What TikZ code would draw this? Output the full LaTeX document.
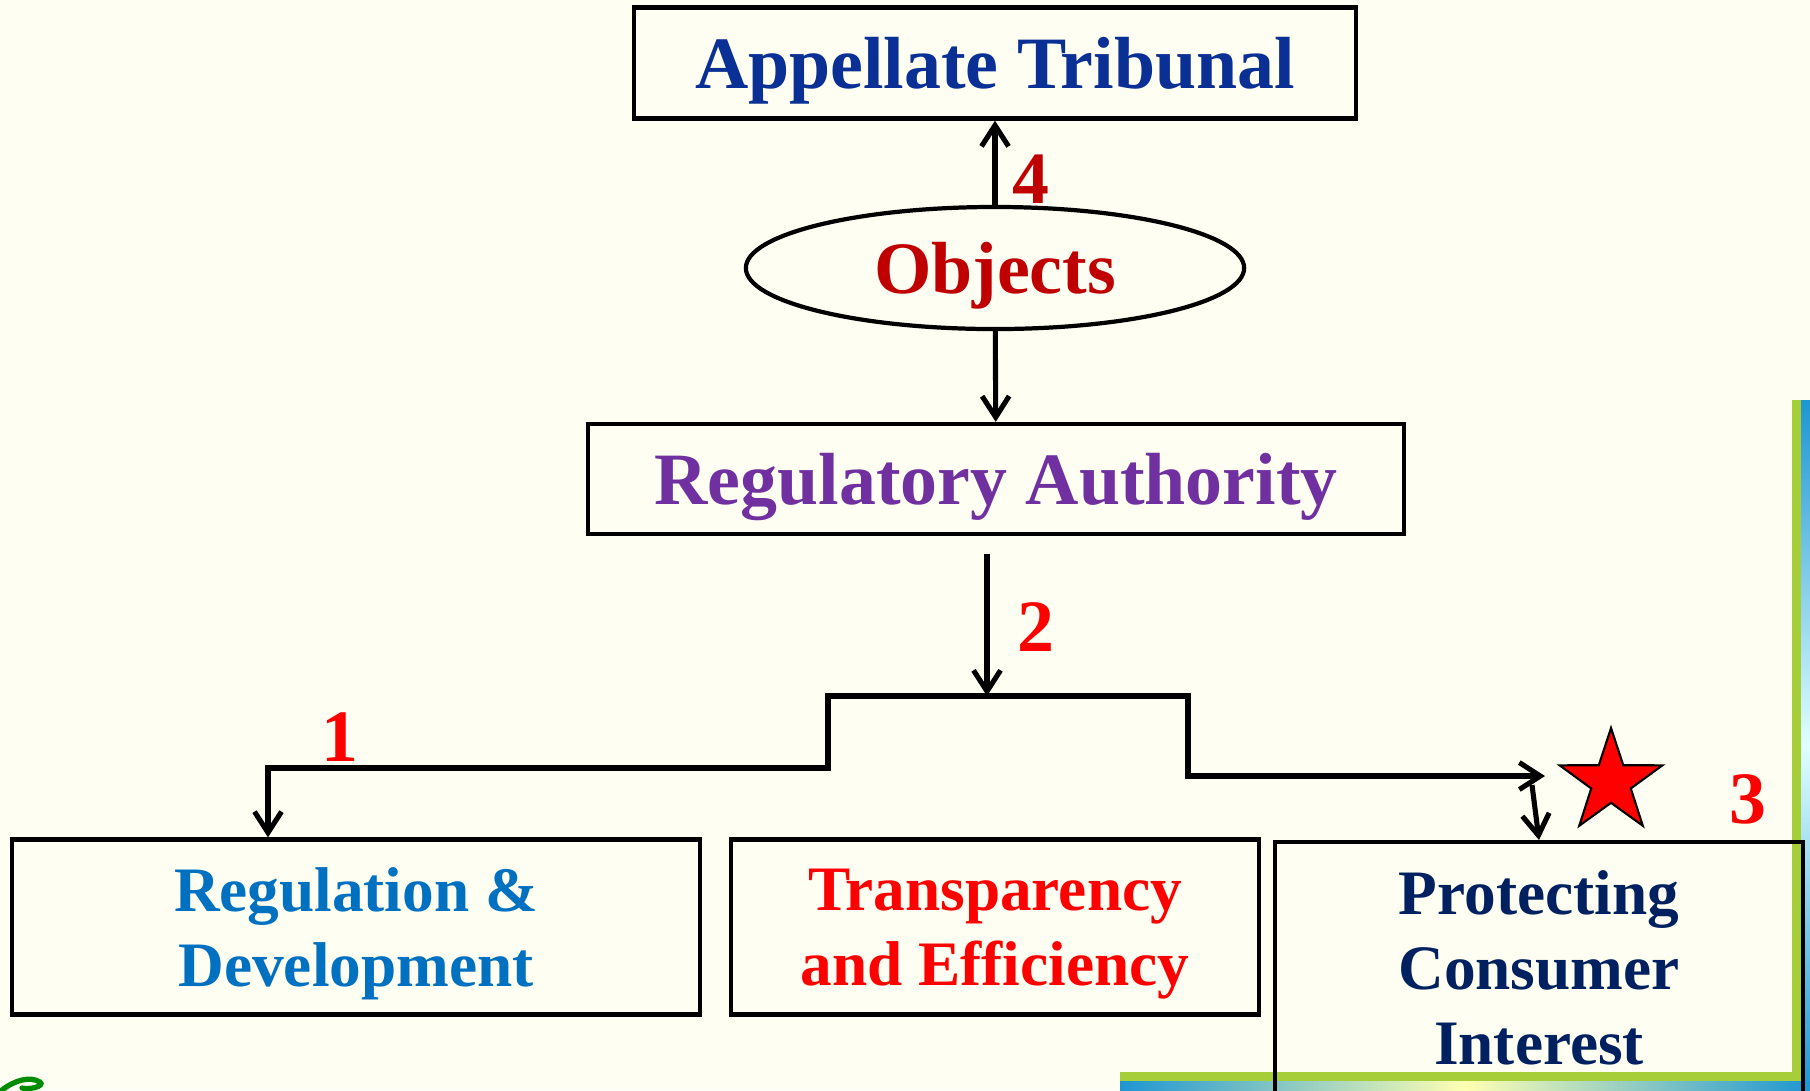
\documentclass[tikz,border=0pt]{standalone}
\usepackage{fontspec}
\setmainfont{Liberation Serif}
\usetikzlibrary{calc}
\usetikzlibrary{shapes.geometric}
\usetikzlibrary{arrows.meta}
\definecolor{cream}{RGB}{254,254,242}
\definecolor{tribblue}{RGB}{10,48,150}
\definecolor{objred}{RGB}{192,0,0}
\definecolor{regpurple}{RGB}{112,48,160}
\definecolor{devblue}{RGB}{0,112,192}
\definecolor{consnavy}{RGB}{0,32,96}
\definecolor{leafgreen}{RGB}{166,206,57}
\definecolor{frameblue}{RGB}{30,150,210}

\begin{document}
\begin{tikzpicture}[x=0.01cm,y=-0.01cm,>={Straight Barb[length=2.1mm,width=2.7mm]}] %% objects chart
	\tikzstyle{box}=[rectangle,draw=black,line width=1.2pt,inner sep=2pt,align=center,text depth=0pt,font=\bfseries\fontsize{21}{25}\selectfont];
	\tikzstyle{lowbox}=[box,minimum height=1.75cm,font=\bfseries\fontsize{18}{21.3}\selectfont];
	\tikzstyle{num}=[inner sep=0pt,font=\bfseries\fontsize{21}{25}\selectfont,text=red];
	\tikzstyle{link}=[line width=1.45pt];
	\useasboundingbox (0,0) rectangle (1810,1090);
	\fill[cream] (0,0) rectangle (1810,1090);
	% frame in the corner
	\fill[leafgreen] (1792,400) rectangle (1801,1081);
	\fill[leafgreen] (1120,1072) rectangle (1801,1081);
	\shade[top color=frameblue,bottom color=frameblue,middle color=cyan!12] (1801,400) rectangle (1810,1090);
	\shade[left color=frameblue,right color=frameblue,middle color=yellow!30] (1120,1081) rectangle (1810,1090);
	\draw[green!55!black,line width=1.5pt,line cap=round] (2,1090) .. controls (15,1080) and (30,1076) .. (40,1082) .. controls (45,1086) and (30,1090) .. (22,1088);
	% top part
	\node[box,text=tribblue,minimum width=7.21cm,minimum height=1.11cm] (trib) at (995,63) {Appellate Tribunal};
	\node[ellipse,draw=black,line width=1.2pt,minimum width=4.98cm,minimum height=1.22cm,inner sep=0pt,text depth=0pt,
		text=objred,font=\bfseries\fontsize{21}{25}\selectfont] (obj) at (995,268) {Objects}
		edge [->,link] (trib);
	\node[box,text=regpurple,minimum width=8.16cm,minimum height=1.10cm] (reg) at (996,479) {Regulatory Authority}
		edge [<-,link] (obj);
	% three objects
	\node[lowbox,text=devblue,minimum width=6.88cm] (regdev) at (356,927) {Regulation \&\\Development};
	\node[lowbox,text=red,minimum width=5.27cm] (transp) at (995,927) {Transparency\\and Efficiency};
	\node[lowbox,text depth=,text=consnavy,minimum width=5.28cm,minimum height=2.52cm,anchor=north] (prot) at (1539,840) {Protecting\\Consumer\\Interest};
	\coordinate (top2) at (987,554);
	\coordinate (split) at (987,696);
	\coordinate (step1) at (268,768);
	\coordinate (step2) at (828,696);
	\coordinate (step3) at (1188,776);
	\coordinate (tip3) at (1545,776);
	\coordinate (foot3) at (1532,785);
	\draw[->,link] (top2) -- (split);
	\draw[<->,link] (step1 |- regdev.north) -- (step1) -| (step2) -| (step3) -- (tip3);
	\draw[->,link] (foot3) -- (prot.north);
	\node[star,star points=5,star point ratio=2.6,minimum size=1.08cm,inner sep=0pt,fill=red,draw=black,line width=0.6pt] (star) at (1611,782) {};
	% numbers
	\node[num,text=objred] (n4) at (1031,179) {4};
	\node[num] (n2) at (1036,627) {2};
	\node[num] (n1) at (340,737) {1};
	\node[num] (n3) at (1748,799) {3};
\end{tikzpicture}
\end{document}
